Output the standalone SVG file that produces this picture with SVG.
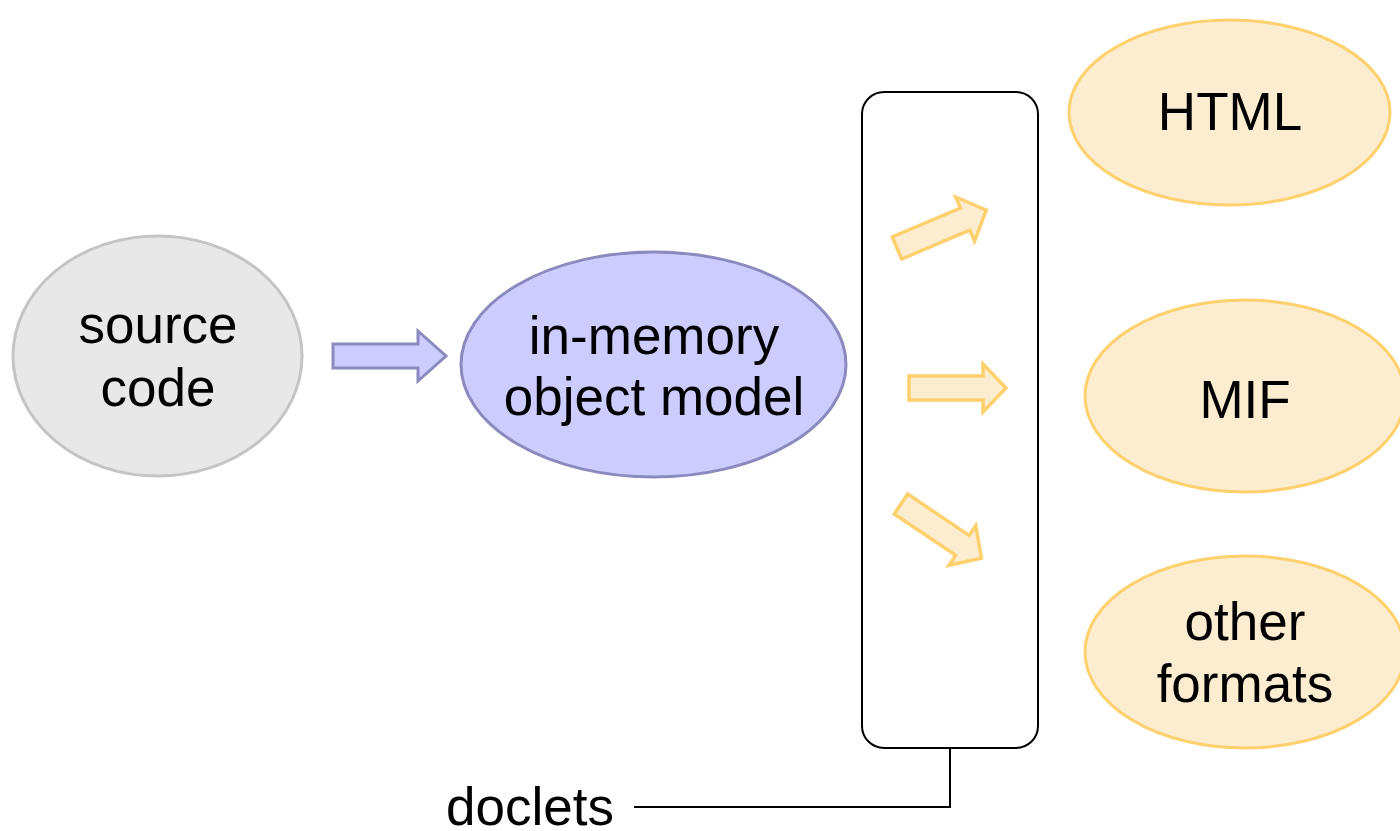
<svg xmlns="http://www.w3.org/2000/svg" width="1400" height="831" viewBox="0 0 1400 831">
  <defs>
    <style>
      text { font-family: "Liberation Sans", Arial, sans-serif; font-size: 53px; fill: #000; text-anchor: middle; }
      .src { fill: #e8e8e8; stroke: #c4c4c4; stroke-width: 3; }
      .mem { fill: #ccccff; stroke: #8a8abf; stroke-width: 3; }
      .out { fill: #fcedd0; stroke: #ffd06e; stroke-width: 3; }
      .box { fill: #fff; stroke: #000; stroke-width: 2; }
      .arrB { fill: #ccccff; stroke: #8a8abf; stroke-width: 3; stroke-linejoin: miter; }
      .arrY { fill: #fcedd0; stroke: #ffd06e; stroke-width: 3.5; stroke-linejoin: miter; }
      .link { fill: none; stroke: #000; stroke-width: 2; }
    </style>
    <!-- block arrow pointing along +x, tail at origin -->
    <polygon id="blockArrow" points="0,-12 74,-12 74,-24 97,0 74,24 74,12 0,12"/>
  </defs>

  <g id="source-code">
    <ellipse class="src" cx="157.5" cy="356" rx="144.5" ry="120"/>
    <text x="158" y="343">source</text>
    <text x="158" y="406">code</text>
  </g>

  <g id="object-model">
    <ellipse class="mem" cx="653.5" cy="364.5" rx="192.5" ry="112.5"/>
    <text x="654" y="354">in-memory</text>
    <text x="654" y="415">object model</text>
  </g>

  <g id="doclets-box">
    <rect class="box" x="862" y="92" width="176" height="656" rx="22" ry="22"/>
  </g>

  <g id="html">
    <ellipse class="out" cx="1229.5" cy="112.5" rx="160.5" ry="92.5"/>
    <text x="1230" y="130">HTML</text>
  </g>

  <g id="mif">
    <ellipse class="out" cx="1245" cy="396" rx="160" ry="96"/>
    <text x="1245" y="418">MIF</text>
  </g>

  <g id="other-formats">
    <ellipse class="out" cx="1245" cy="652" rx="160" ry="96"/>
    <text x="1245" y="640">other</text>
    <text x="1245" y="702">formats</text>
  </g>

  <g id="doclets-label">
    <text x="530" y="825">doclets</text>
  </g>

  <g id="connectors">
    <polygon class="arrB" points="333,344 418,344 418,331 446,356 418,381 418,368 333,368"/>
    <use href="#blockArrow" class="arrY" transform="translate(909,388)"/>
    <use href="#blockArrow" class="arrY" transform="translate(897,248) rotate(-23)"/>
    <use href="#blockArrow" class="arrY" transform="translate(901,504) rotate(34)"/>
    <polyline class="link" points="634,807 950,807 950,748"/>
  </g>
</svg>
